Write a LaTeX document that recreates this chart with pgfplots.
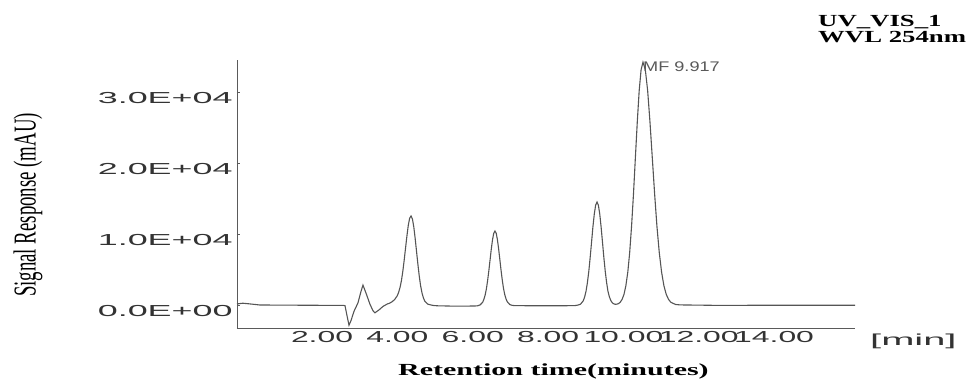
\documentclass[border=0pt]{standalone}
\usepackage{pgfplots}
\pgfplotsset{compat=1.18}
\usepackage{fontspec}
\setmainfont{Liberation Serif}
\newfontfamily\tickfont[FakeStretch=2.0]{Liberation Sans}
\newfontfamily\ytickfont[FakeStretch=2.25]{Liberation Sans}
\newfontfamily\minfont[FakeStretch=2.5]{Liberation Sans}
\newfontfamily\mffont[FakeStretch=1.3]{Liberation Sans}
\newfontfamily\titlefont[FakeStretch=1.58]{Liberation Serif}
\newfontfamily\xlabfont[FakeStretch=1.77]{Liberation Serif}
\newfontfamily\ylabfont[FakeStretch=0.59]{Liberation Serif}
\definecolor{trace}{RGB}{85,85,85}
\definecolor{axgray}{RGB}{90,90,90}
\begin{document}
\begin{tikzpicture}
\useasboundingbox (-237bp,-55bp) rectangle (742bp,328bp);
\begin{axis}[
  at={(0,0)}, anchor=south west,
  scale only axis, width=618bp, height=268bp,
  xmin=-0.257, xmax=16.148, ymin=-3240, ymax=34507,
  axis lines*=left,
  axis line style={draw=axgray, line width=0.8bp},
  xtick={2,4,6,8,10,12,14},
  xticklabels={2.00,4.00,6.00,8.00,10.00,12.00,14.00},
  ytick={0,10000,20000,30000},
  yticklabels={0.0E+00,1.0E+04,2.0E+04,3.0E+04},
  scaled y ticks=false, scaled x ticks=false,
  tick align=inside,
  major tick length=3bp,
  x tick style={draw=none},
  y tick style={draw=axgray, line width=0.6bp},
  xticklabel style={font=\tickfont\fontsize{16}{16}\selectfont, text=black!80},
  yticklabel style={font=\ytickfont\fontsize{16}{16}\selectfont, text=black!80, yshift=-6bp, xshift=-1bp},
  clip=false,
]
\addplot[trace, line width=1.1bp] coordinates {
(-0.257,150) (-0.10,250) (0.09,150) (0.35,0) (1.4,-30) (2.58,-60)
(2.61,-100) (2.663,-1500) (2.716,-2850) (2.769,-2200) (2.848,-900)
(2.954,300) (3.034,1900) (3.087,2800) (3.166,1700) (3.273,100)
(3.352,-800) (3.405,-1100) (3.511,-700) (3.618,-200) (3.735,150)
(3.779,224) (3.852,429) (3.925,748) (3.998,1308) (4.034,1784)
(4.071,2471) (4.108,3434) (4.144,4708) (4.180,6267) (4.217,8006)
(4.254,9740) (4.290,11229) (4.326,12223) (4.363,12540) (4.400,12108)
(4.436,11000) (4.472,9394) (4.509,7540) (4.546,5687) (4.582,4026)
(4.618,2682) (4.655,1678) (4.692,987) (4.728,544) (4.801,138)
(4.874,27) (4.947,-60) (5.05,-110) (5.4,-150) (5.9,-150)
(6.067,-140) (6.133,-110) (6.198,20) (6.264,380) (6.296,780)
(6.329,1380) (6.362,2240) (6.394,3375) (6.427,4765) (6.460,6318)
(6.493,7864) (6.526,9196) (6.558,10099) (6.591,10420) (6.624,10099)
(6.656,9196) (6.689,7865) (6.722,6320) (6.755,4770) (6.788,3383)
(6.820,2254) (6.853,1410) (6.886,829) (6.918,457) (6.984,60)
(7.050,-50) (7.115,-90) (7.4,-100) (8.5,-100) (8.717,-80)
(8.790,-20) (8.863,120) (8.935,600) (8.971,1120) (9.008,1940)
(9.044,3120) (9.081,4700) (9.117,6638) (9.154,8794) (9.190,10945)
(9.227,12796) (9.263,14053) (9.300,14500) (9.336,14053) (9.373,12796)
(9.409,10945) (9.446,8794) (9.482,6638) (9.519,4708) (9.555,3136)
(9.589,1962) (9.628,1155) (9.665,640) (9.701,338) (9.737,179)
(9.780,105) (9.825,114) (9.870,199) (9.915,381) (9.965,780)
(10.016,1501) (10.066,2722) (10.117,4627) (10.167,7397) (10.217,11105)
(10.268,15657) (10.318,20742) (10.369,25814) (10.419,30182) (10.470,33147)
(10.520,34200) (10.582,33147) (10.644,30182) (10.705,25814) (10.767,20742)
(10.829,15657) (10.890,11105) (10.952,7397) (11.014,4627) (11.075,2722)
(11.137,1501) (11.199,780) (11.260,380) (11.384,75) (11.508,11)
(11.7,0) (12.6,-60) (13.8,-30) (16.148,-40)
};
\node[anchor=north west, inner sep=0pt, text=black!65,
      font=\mffont\fontsize{14}{14}\selectfont] at (axis cs:10.52,34300) {MF 9.917};
\end{axis}
\node[anchor=base west, inner sep=0pt, text=black!80,
      font=\minfont\fontsize{16}{16}\selectfont] at (633bp,-17bp) {[min]};
\node[anchor=base west, inner sep=0pt,
      font=\xlabfont\bfseries\fontsize{17}{17}\selectfont] at (161bp,-47bp) {Retention time(minutes)};
\node[rotate=90, inner sep=0pt,
      font=\ylabfont\fontsize{32}{32}\selectfont] at (-209bp,123bp) {Signal Response (mAU)};
\node[anchor=base west, inner sep=0pt,
      font=\titlefont\bfseries\fontsize{17}{17}\selectfont] at (581bp,301bp) {UV\_VIS\_1};
\node[anchor=base west, inner sep=0pt,
      font=\titlefont\bfseries\fontsize{17}{17}\selectfont] at (581bp,285bp) {WVL 254nm};
\end{tikzpicture}
\end{document}
